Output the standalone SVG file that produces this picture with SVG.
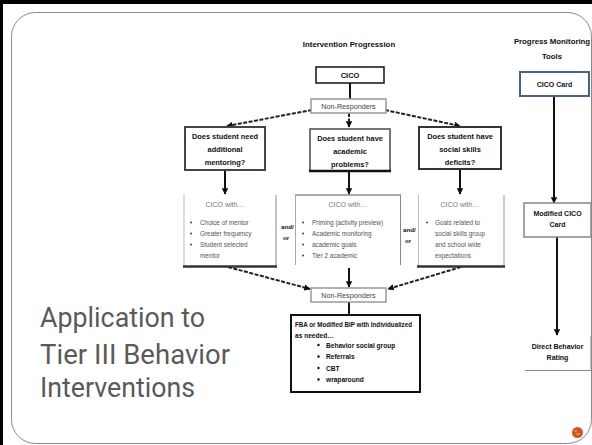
<svg xmlns="http://www.w3.org/2000/svg" width="592" height="445" viewBox="0 0 592 445">
<style>
.t{font-family:Roboto,"Liberation Sans",Arial,sans-serif;font-weight:normal}
.b{font-family:"Liberation Sans",Arial,sans-serif;font-weight:bold;fill:#111}
.q{font-size:7.4px;text-anchor:middle}
.g{font-family:"Liberation Sans",Arial,sans-serif;fill:#777;font-size:7px;text-anchor:middle}
.s{font-family:"Liberation Sans",Arial,sans-serif;fill:#555;font-size:6.4px}
.nr{fill:#fff;stroke:#999;stroke-width:1.5}
.nrt{font-family:"Liberation Sans",Arial,sans-serif;fill:#444;font-size:7.2px;text-anchor:middle}
.solid{stroke:#111;stroke-width:2;fill:none}
.dash{stroke:#222;stroke-width:2;fill:none;stroke-dasharray:4 1.5}
.ao{font-size:6.2px}
</style>
<defs>
<marker id="ah" viewBox="0 0 10 10" refX="9" refY="5" markerWidth="3.2" markerHeight="3.2" orient="auto" markerUnits="strokeWidth">
<path d="M0,0 L10,5 L0,10 z" fill="#111"/>
</marker>
</defs>
<rect x="0" y="0" width="592" height="445" fill="#fff"/>
<rect x="0" y="0" width="592" height="4" fill="#000"/>
<rect x="0" y="0" width="3" height="445" fill="#000"/>
<rect x="11.5" y="12.5" width="580" height="431" rx="24" ry="24" fill="none" stroke="#8a8a8a" stroke-width="1"/>

<g id="title-main"><text class="b" x="349" y="47" font-size="7.8" text-anchor="middle">Intervention Progression</text></g>
<g id="title-pm"><text class="b" x="552" y="44" font-size="7.8" text-anchor="middle">Progress Monitoring</text><text class="b" x="552" y="59" font-size="7.8" text-anchor="middle">Tools</text></g>

<g id="heading">
<text class="t" fill="#5a5a5a" font-size="28" x="40" y="327" textLength="165" lengthAdjust="spacingAndGlyphs">Application to</text>
<text class="t" fill="#5a5a5a" font-size="28" x="40" y="364" textLength="190" lengthAdjust="spacingAndGlyphs">Tier III Behavior</text>
<text class="t" fill="#5a5a5a" font-size="28" x="40" y="397" textLength="155" lengthAdjust="spacingAndGlyphs">Interventions</text>
</g>

<g id="connectors">
<line class="solid" x1="350" y1="83" x2="350" y2="99"/>
<line class="dash" x1="312" y1="110" x2="227" y2="126" marker-end="url(#ah)"/>
<line class="dash" x1="349" y1="113" x2="349" y2="127" marker-end="url(#ah)"/>
<line class="dash" x1="385" y1="110" x2="460" y2="126" marker-end="url(#ah)"/>
<line class="solid" x1="225" y1="170" x2="225" y2="194" marker-end="url(#ah)"/>
<line class="solid" x1="349" y1="171" x2="349" y2="194" marker-end="url(#ah)"/>
<line class="solid" x1="460" y1="170" x2="460" y2="194" marker-end="url(#ah)"/>
<line class="dash" x1="228" y1="267" x2="310" y2="289" marker-end="url(#ah)"/>
<line class="solid" x1="349" y1="268" x2="349" y2="287" marker-end="url(#ah)"/>
<line class="dash" x1="461" y1="267" x2="388" y2="289" marker-end="url(#ah)"/>
<line class="solid" x1="349" y1="302" x2="349" y2="315"/>
<line class="solid" x1="554" y1="97" x2="554" y2="203" marker-end="url(#ah)"/>
<line class="solid" x1="557" y1="237" x2="557" y2="335" marker-end="url(#ah)"/>
</g>

<g id="cico"><rect x="316" y="67" width="68" height="16" fill="#fff" stroke="#111" stroke-width="1.5"/><text class="b" x="350" y="78" font-size="7.5" text-anchor="middle">CICO</text></g>

<g id="nonresp1"><rect class="nr" x="311" y="99" width="75" height="14"/><text class="nrt" x="348.5" y="108.5">Non-Responders</text></g>

<g id="q-mentoring"><rect x="185" y="127" width="80" height="43" fill="#fff" stroke="#444" stroke-width="2"/>
<text class="b q" x="225" y="139">Does student need</text><text class="b q" x="225" y="152">additional</text><text class="b q" x="225" y="165">mentoring?</text></g>

<g id="q-academic"><rect x="310" y="129" width="80" height="42" fill="#fff" stroke="#666" stroke-width="1.8"/><line x1="309" y1="171" x2="391" y2="171" stroke="#111" stroke-width="2.5"/>
<text class="b q" x="350" y="141">Does student have</text><text class="b q" x="350" y="154">academic</text><text class="b q" x="350" y="167">problems?</text></g>

<g id="q-social"><rect x="419" y="127" width="82" height="42" fill="#fff" stroke="#333" stroke-width="2"/>
<text class="b q" x="460" y="139">Does student have</text><text class="b q" x="460" y="152">social skills</text><text class="b q" x="460" y="165">deficits?</text></g>

<g id="cico-mentor">
<line x1="184" y1="195" x2="184" y2="266" stroke="#bbb" stroke-width="1"/>
<line x1="276" y1="195" x2="276" y2="266" stroke="#888" stroke-width="1"/>
<line x1="183" y1="266.5" x2="277" y2="266.5" stroke="#333" stroke-width="2.5"/>
<text class="g" x="225" y="207">CICO with…</text>
<circle cx="191" cy="222.5" r="1" fill="#444"/><circle cx="191" cy="233.5" r="1" fill="#444"/><circle cx="191" cy="244.5" r="1" fill="#444"/>
<text class="s" x="200" y="225">Choice of mentor</text>
<text class="s" x="200" y="236">Greater frequency</text>
<text class="s" x="200" y="247">Student selected</text>
<text class="s" x="200" y="258">mentor</text>
</g>

<g id="andor1"><text class="b ao" x="281" y="229">and/</text><text class="b ao" x="283" y="240">or</text></g>

<g id="cico-academic">
<line x1="295" y1="195" x2="401" y2="195" stroke="#555" stroke-width="1.2"/>
<line x1="295.5" y1="195" x2="295.5" y2="265" stroke="#aaa" stroke-width="1"/>
<line x1="400.5" y1="195" x2="400.5" y2="265" stroke="#888" stroke-width="1"/>
<text class="g" x="348" y="207">CICO with…</text>
<circle cx="303" cy="222.5" r="1" fill="#444"/><circle cx="303" cy="233.5" r="1" fill="#444"/><circle cx="303" cy="244.5" r="1" fill="#444"/><circle cx="303" cy="255.5" r="1" fill="#444"/>
<text class="s" x="312" y="225">Priming (activity preview)</text>
<text class="s" x="312" y="236">Academic monitoring</text>
<text class="s" x="312" y="247">academic goals</text>
<text class="s" x="312" y="258">Tier 2 academic</text>
</g>

<g id="andor2"><text class="b ao" x="403" y="232">and/</text><text class="b ao" x="405" y="243">or</text></g>

<g id="cico-social">
<line x1="418.5" y1="195" x2="418.5" y2="266" stroke="#bbb" stroke-width="1"/>
<line x1="504" y1="195" x2="504" y2="266" stroke="#999" stroke-width="1"/>
<line x1="417" y1="266.5" x2="505" y2="266.5" stroke="#333" stroke-width="2.5"/>
<text class="g" x="460" y="207">CICO with…</text>
<circle cx="427" cy="222.5" r="1" fill="#444"/>
<text class="s" x="435" y="225">Goals related to</text>
<text class="s" x="435" y="236">social skills group</text>
<text class="s" x="435" y="247">and school wide</text>
<text class="s" x="435" y="258">expectations</text>
</g>

<g id="nonresp2"><rect class="nr" x="311" y="288" width="75" height="14"/><text class="nrt" x="348.5" y="297.5">Non-Responders</text></g>

<g id="fba"><rect x="291" y="315" width="129" height="77" fill="#fff" stroke="#111" stroke-width="2"/>
<text class="b" x="295" y="327" font-size="6.6" textLength="117" lengthAdjust="spacingAndGlyphs">FBA or Modified BIP with Individualized</text>
<text class="b" x="295" y="338" font-size="6.6">as needed…</text>
<circle cx="318.5" cy="345" r="1.2" fill="#111"/><circle cx="318.5" cy="356.5" r="1.2" fill="#111"/><circle cx="318.5" cy="368" r="1.2" fill="#111"/><circle cx="318.5" cy="379.5" r="1.2" fill="#111"/>
<text class="b" x="326" y="347.5" font-size="6.6">Behavior social group</text>
<text class="b" x="326" y="359" font-size="6.6">Referrals</text>
<text class="b" x="326" y="370.5" font-size="6.6">CBT</text>
<text class="b" x="326" y="382" font-size="6.6">wraparound</text>
</g>

<g id="cico-card"><rect x="520" y="72" width="69" height="24" fill="#fff" stroke="#4a6184" stroke-width="2"/><text class="b" x="554.5" y="86.5" font-size="7" text-anchor="middle">CICO Card</text></g>

<g id="mod-card"><rect x="524" y="203" width="67" height="34" fill="#fff" stroke="#888" stroke-width="1.5"/>
<text class="b" x="557.5" y="215.5" font-size="7" text-anchor="middle">Modified CICO</text><text class="b" x="557.5" y="226.5" font-size="7" text-anchor="middle">Card</text></g>

<g id="dbr"><polyline points="525,370.5 591,370.5 591,336" fill="none" stroke="#888" stroke-width="1"/>
<text class="b" x="557.5" y="349" font-size="7" text-anchor="middle">Direct Behavior</text><text class="b" x="557.5" y="360" font-size="7" text-anchor="middle">Rating</text></g>

<g id="logo"><circle cx="577.5" cy="432.5" r="5.5" fill="#d2541f"/><path d="M574,431 h3 M576,434 h4" stroke="#f4b08a" stroke-width="1"/></g>
</svg>
